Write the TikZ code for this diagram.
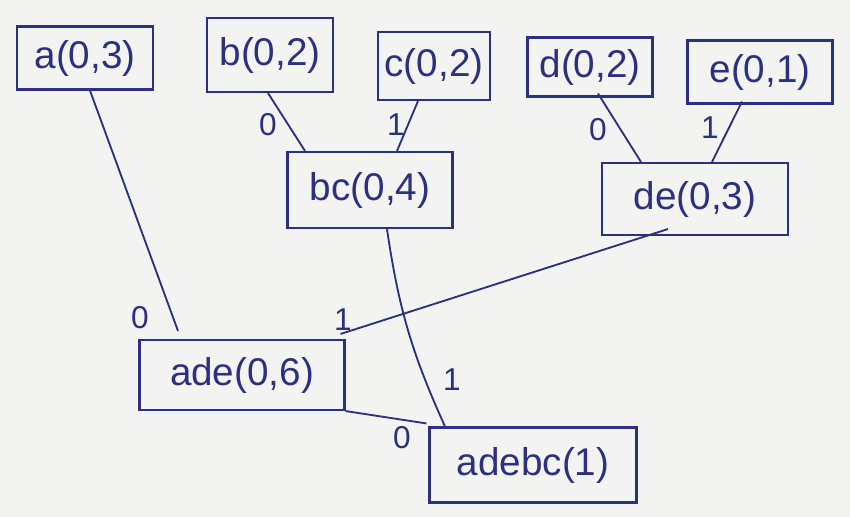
\documentclass[tikz,border=0pt]{standalone}
\usepackage{fontspec}
\setmainfont{Liberation Sans}
\usetikzlibrary{calc}
\definecolor{ink}{HTML}{2B3080}
\definecolor{paper}{HTML}{F3F4F1}
\tikzset{
  hbox/.style={draw=ink, line width=1.2pt, text=ink, inner sep=0pt,
    font=\fontsize{22}{26}\selectfont},
  edge/.style={draw=ink, line width=1.05pt},
  bit/.style={text=ink, font=\fontsize{18}{21}\selectfont, inner sep=0pt}
}
\begin{document}
\begin{tikzpicture}[x=0.02cm,y=-0.02cm]
\fill[paper] (0,0) rectangle (850,517);
\useasboundingbox (0,0) rectangle (850,517);
% leaves
\node[hbox, minimum width=2.72cm, minimum height=1.26cm] (a) at (85,58) {a(0,3)};
\node[hbox, minimum width=2.52cm, minimum height=1.48cm] (b) at (270,55) {b(0,2)};
\node[hbox, minimum width=2.24cm, minimum height=1.36cm] (c) at (434,66) {c(0,2)};
\node[hbox, minimum width=2.50cm, minimum height=1.18cm] (d) at (590,67) {d(0,2)};
\node[hbox, minimum width=2.90cm, minimum height=1.26cm] (e) at (760,72) {e(0,1)};
% internal
\node[hbox, minimum width=3.30cm, minimum height=1.52cm] (bc) at (370,190) {bc(0,4)};
\node[hbox, minimum width=3.72cm, minimum height=1.44cm] (de) at (695,199) {de(0,3)};
\node[hbox, minimum width=4.10cm, minimum height=1.40cm] (ade) at (242,375) {ade(0,6)};
\node[hbox, minimum width=4.14cm, minimum height=1.50cm] (adebc) at (533,465) {adebc(1)};
% edges
\draw[edge] ($(a.south)+(5,0)$) -- ($(ade.north)+(-64,-8)$);
\draw[edge] ($(b.south)+(-2,0)$) -- ($(bc.north)+(-65,0)$);
\draw[edge] ($(c.south)+(-16,0)$) -- ($(bc.north)+(27,0)$);
\draw[edge] ($(d.south)+(8,-4)$) -- ($(de.north)+(-54,0)$);
\draw[edge] ($(e.south)+(-18,-3)$) -- ($(de.north)+(17,0)$);
\draw[edge] ($(bc.south)+(17,0)$) to[bend right=8] ($(adebc.north)+(-88,0)$);
\draw[edge] ($(de.south)+(-27,-7)$) -- ($(ade.north east)+(-5,-5)$);
\draw[edge] ($(ade.south east)+(0,0)$) -- ($(adebc.north west)+(-2,-3)$);
% bit labels
\node[bit] (l1) at (140,318) {0};
\node[bit] (l2) at (268,125) {0};
\node[bit] (l3) at (396,125) {1};
\node[bit] (l4) at (598,130) {0};
\node[bit] (l5) at (710,128) {1};
\node[bit] (l6) at (343,320) {1};
\node[bit] (l7) at (452,380) {1};
\node[bit] (l8) at (402,438) {0};
\end{tikzpicture}
\end{document}
